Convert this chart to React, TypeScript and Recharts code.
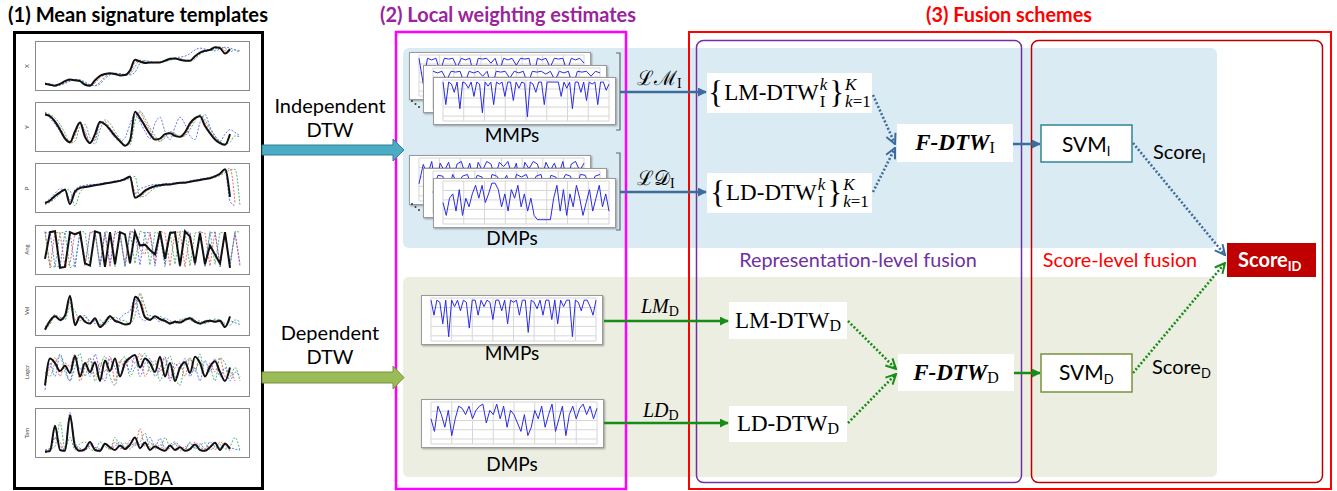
import React from 'react';
import { LineChart, Line, XAxis, YAxis, CartesianGrid } from 'recharts';

// ---------------- DATA ----------------
const SIG_LABELS = ['X', 'Y', 'P', 'Ang', 'Vel', 'Logcr', 'Tam'];
const SIG_TICKS = [0, 5.2, 10.4, 15.6, 20.8, 26, 31.2, 36.4];

const X_mean = [10,8,6,10,16,20,18,16,8,6,18,28,32,34,32,29,30,40,64,60,57,58,58,58,62,66,67,64,62,62,72,80,84,86,92,90,78,88,null,null];
const X_red = [12,9,7,9,14,19,19,17,10,6,12,24,30,33,33,30,29,34,58,62,58,57,58,59,61,65,67,66,63,63,70,78,83,86,90,93,84,86,null,null];
const X_green = [9,7,5,7,12,18,20,18,12,7,6,14,26,32,34,32,30,32,48,63,60,58,57,58,60,63,66,66,63,61,66,76,82,85,88,92,90,82,86,84];
const X_blue = [11,10,8,8,11,16,20,19,14,8,6,10,22,30,33,33,31,30,36,56,62,60,58,58,61,64,68,70,72,78,86,90,88,86,84,88,92,90,86,80];

const Y_mean = [78,74,62,44,24,16,40,60,28,14,34,62,56,44,30,18,8,20,84,70,52,34,22,24,34,36,30,28,38,58,70,74,52,36,22,14,10,34,null,null];
const Y_red = [80,76,64,50,28,14,30,58,42,16,24,58,62,48,34,20,8,14,76,82,62,42,24,18,30,38,34,28,32,52,68,76,60,40,26,16,10,30,null,null];
const Y_green = [82,78,70,56,36,14,18,50,56,26,12,44,66,58,40,24,10,10,62,86,70,48,30,18,26,40,36,28,30,44,64,78,66,46,30,18,12,16,30,28];
const Y_blue = [84,70,56,40,22,16,42,62,36,16,20,58,56,40,26,18,26,56,80,62,40,24,58,72,40,22,50,72,56,30,22,60,78,50,30,18,34,44,38,30];

const P_mean = [16,22,32,40,46,14,42,50,52,54,56,58,60,62,64,66,70,76,28,34,44,50,54,56,58,58,60,62,62,64,66,68,70,72,76,82,92,30,null,null];
const P_red = [12,20,30,42,46,20,36,50,54,54,57,58,60,63,64,67,71,74,40,30,40,48,54,56,57,59,60,61,63,64,66,68,70,72,76,80,88,94,18,null];
const P_green = [14,18,26,36,48,44,10,40,52,56,58,58,60,62,64,66,68,72,76,30,32,42,50,54,56,58,60,60,62,64,66,68,70,72,74,78,84,90,92,10];
const P_blue = [18,26,38,48,44,24,46,54,56,58,58,60,62,62,66,68,72,70,36,48,52,56,58,58,60,60,62,62,64,66,68,70,72,74,78,84,90,20,10,null];

const Ang_mean = [30,90,92,10,12,90,85,90,20,15,92,88,12,90,18,90,85,20,90,60,62,50,40,92,30,88,90,15,92,80,20,88,18,60,40,20,90,10,null,null];
const Ang_red = [90,10,90,88,12,20,90,88,14,90,92,16,88,12,90,80,18,92,88,50,40,90,20,92,88,14,90,90,12,88,16,90,88,14,92,18,90,14,90,20];
const Ang_green = [92,14,12,90,88,10,18,92,90,12,90,14,92,88,12,90,14,90,20,92,88,16,90,86,12,90,18,92,90,14,88,90,12,92,18,90,88,12,92,90];
const Ang_blue = [88,90,14,12,92,90,10,90,16,88,90,12,90,18,92,88,12,90,92,16,90,88,14,90,18,92,88,12,90,90,16,92,14,88,90,12,90,20,88,14];

const Vel_mean = [8,28,38,30,40,84,18,38,26,22,34,14,24,38,28,24,20,22,82,70,36,30,38,32,28,22,26,24,30,34,26,22,26,28,26,28,14,38,null,null];
const Vel_red = [10,24,36,34,38,70,30,40,30,20,30,18,26,34,30,26,20,24,64,86,40,32,36,30,26,20,28,26,32,30,24,22,28,26,30,24,16,30,null,null];
const Vel_green = [12,20,40,36,30,60,50,28,36,28,22,30,20,30,36,30,28,22,40,90,60,30,34,38,30,24,22,28,34,30,26,28,22,26,32,30,22,18,30,26];
const Vel_blue = [14,30,42,28,36,76,24,34,40,24,28,20,30,40,26,34,44,50,78,36,28,40,34,26,34,28,24,30,28,36,30,20,28,30,24,30,18,28,24,20];

const Log_mean = [20,80,70,52,64,48,86,40,70,50,72,30,76,52,80,40,70,82,88,60,80,70,50,84,40,70,30,60,72,48,84,70,40,62,74,50,30,60,null,null];
const Log_red = [30,60,82,40,70,62,90,30,60,82,40,70,50,86,30,76,60,80,70,92,40,62,76,50,82,36,60,70,40,82,56,74,40,70,50,82,40,50,30,null];
const Log_green = [50,40,70,86,50,30,60,92,40,80,30,60,86,40,20,70,84,40,60,76,92,50,70,30,60,86,40,20,70,80,50,90,40,60,30,82,70,40,60,30];
const Log_blue = [10,70,40,90,60,30,80,56,70,40,90,50,30,80,60,40,76,50,86,40,70,80,40,60,84,30,70,56,80,40,60,30,76,50,80,40,60,30,50,40];

const Tam_mean = [8,10,66,12,10,90,20,10,14,30,12,10,26,18,12,22,14,24,40,16,28,12,20,14,10,22,12,18,10,14,24,12,10,18,28,12,26,14,null,null];
const Tam_red = [6,8,40,30,10,84,30,12,10,24,16,8,28,12,30,16,14,34,20,60,20,30,14,24,12,16,26,10,20,12,30,18,14,22,12,30,22,10,null,null];
const Tam_green = [10,14,20,74,16,40,12,26,30,14,10,30,20,14,40,20,28,14,26,30,50,18,24,14,40,20,26,18,12,30,14,22,28,12,20,24,14,20,40,10];
const Tam_blue = [12,16,40,20,14,96,24,16,12,20,18,14,24,16,20,30,18,20,28,24,30,40,20,38,16,24,30,20,14,28,18,26,14,30,20,16,28,18,14,12];

// Local weighting profiles (MMPs / DMPs)
const MMP_I_A = [92,30,92,88,92,60,92,90,92,70,92,88,92,50,92,90,92,80,92,60,92,88,92,75,92,90,92,40,92,88,92,70,92,90,92,60,92,88,92,80];
const MMP_I_B = [92,88,92,70,92,90,92,60,92,88,92,80,92,50,92,90,92,75,92,88,92,60,92,90,92,85,92,70,92,88,92,55,92,90,92,80,92,88];
const MMP_I_C = [95,40,95,90,70,95,30,95,92,80,95,60,95,90,20,95,85,95,40,95,90,95,60,95,95,50,95,80,95,92,10,95,90,70,95,95,40,95,95,95,95,95,60,95,80,95,30,95,95,70,95,50,95,90,95,40,95,95,75,90];
const DMP_I_A = [40,85,60,92,30,88,70,90,50,86,92,60,88,40,90,70,92,86,55,90,80,92,60,88,30,90,75,92,86,50,90,70,88,60,92,40,86,92,70,88];
const DMP_I_B = [50,90,88,40,92,70,88,92,60,90,86,30,92,88,70,90,50,92,86,92,60,88,92,40,90,86,70,92,88,50,92,90,60,88,92];
const DMP_I_C = [50,20,60,70,30,80,20,60,40,70,90,60,90,50,70,95,95,80,40,70,30,80,60,90,40,70,30,60,20,10,10,10,10,10,60,90,30,80,20,70,40,90,60,20,50,80,30,60,90,40,70,30];
const MMP_D = [95,60,95,90,40,95,10,95,80,95,70,95,90,30,95,95,60,95,80,95,90,50,95,95,70,95,40,95,90,95,60,95,95,20,95,90,75,95,60,95,95,50,95,40,95,80,95,95,10,95,90,70,95,95,80,60,95];
const DMP_D = [60,30,90,70,40,80,20,60,90,85,70,90,60,80,90,95,50,80,70,95,60,90,40,80,70,50,30,70,20,40,80,60,90,40,70,95,30,60,90,20,70,90,60,85,95,70,90,60,85];

// ---------------- COMPONENTS ----------------
const SIGS = [
  [X_mean, X_red, X_green, X_blue],
  [Y_mean, Y_red, Y_green, Y_blue],
  [P_mean, P_red, P_green, P_blue],
  [Ang_mean, Ang_red, Ang_green, Ang_blue],
  [Vel_mean, Vel_red, Vel_green, Vel_blue],
  [Log_mean, Log_red, Log_green, Log_blue],
  [Tam_mean, Tam_red, Tam_green, Tam_blue],
];

const SANS = 'Lato, "Open Sans", sans-serif';
const SERIF = '"Liberation Serif", "DejaVu Serif", serif';

function SigPlot({ idx }: { idx: number }) {
  const [m, r, g, b] = SIGS[idx];
  const data = m.map((_, i) => ({ i, m: m[i], r: r[i], g: g[i], b: b[i] }));
  const top = 41 + idx * 61.2;
  const kind = idx === 3 ? 'linear' : 'monotone';
  return (
    <>
      <div style={{ position: 'absolute', left: 35, top, width: 215, height: 50, border: '1px solid #8a8a8a', boxSizing: 'border-box' }} />
      <div style={{ position: 'absolute', left: 20, top: top - 2 }}>
        <LineChart width={240} height={62} data={data} margin={{ top: 2, right: 10, bottom: 10, left: 15 }}>
          <XAxis dataKey="i" type="number" domain={[-2, 41]} ticks={SIG_TICKS} tickFormatter={() => ''} axisLine={false} tickLine={{ stroke: '#666' }} tickSize={3} height={0} />
          <YAxis type="number" domain={[-6, 106]} ticks={[8, 50, 92]} tickFormatter={() => ''} axisLine={false} tickLine={{ stroke: '#666' }} tickSize={3} width={0} />
          <Line type={kind} dataKey="r" stroke="#ee5555" strokeWidth={0.9} strokeDasharray="2 1.5" dot={false} isAnimationActive={false} />
          <Line type={kind} dataKey="g" stroke="#44aa66" strokeWidth={0.9} strokeDasharray="2 1.5" dot={false} isAnimationActive={false} />
          <Line type={kind} dataKey="b" stroke="#5566ee" strokeWidth={0.9} strokeDasharray="2 1.5" dot={false} isAnimationActive={false} />
          <Line type={kind} dataKey="m" stroke="#111" strokeWidth={2} dot={false} isAnimationActive={false} />
        </LineChart>
      </div>
    </>
  );
}

function Card({ vals, left, top, w, h }: { vals: number[]; left: number; top: number; w: number; h: number }) {
  const data = vals.map((v, i) => ({ i, v }));
  const cw = w - 2, ch = h - 2;
  const ml = 9, mr = 6, mt = 2, mb = 3;
  const pw = cw - ml - mr, ph = ch - mt - mb;
  const vp = Array.from({ length: 9 }, (_, k) => ml + (k * pw) / 8);
  const hp = [0, 0.22, 0.44, 0.66, 0.88, 1].map((f) => mt + f * ph);
  return (
    <div style={{ position: 'absolute', left, top, width: w, height: h, background: '#fff', border: '1px solid #9a9a9a', boxSizing: 'border-box', boxShadow: '1px 1px 2px rgba(0,0,0,0.35)' }}>
      <LineChart width={cw} height={ch} data={data} margin={{ top: mt, right: mr, bottom: mb, left: ml }}>
        <CartesianGrid verticalPoints={vp} horizontalPoints={hp} stroke="#d6d6d6" />
        <XAxis dataKey="i" type="number" domain={[0, vals.length - 1]} hide />
        <YAxis type="number" domain={[0, 100]} hide />
        <Line dataKey="v" stroke="#2a2ae6" strokeWidth={1} dot={false} isAnimationActive={false} />
      </LineChart>
    </div>
  );
}

function Stack({ sup, sub }: { sup: React.ReactNode; sub: React.ReactNode }) {
  return (
    <span style={{ display: 'inline-flex', flexDirection: 'column', fontSize: 17, lineHeight: '17px', marginLeft: 1 }}>
      <span>{sup}</span>
      <span>{sub}</span>
    </span>
  );
}

function MathBox({ left, top, w, h, children }: { left: number; top: number; w: number; h: number; children: React.ReactNode }) {
  return (
    <div style={{ position: 'absolute', left, top, width: w, height: h, background: '#fff', display: 'flex', alignItems: 'center', justifyContent: 'center', fontFamily: SERIF, fontSize: 23, color: '#000', whiteSpace: 'nowrap' }}>
      {children}
    </div>
  );
}

function SetExpr({ name }: { name: string }) {
  return (
    <>
      <span style={{ fontSize: 31, lineHeight: '30px', marginRight: 1 }}>{'{'}</span>
      <span>{name}</span>
      <Stack sup={<i>k</i>} sub={<span>I</span>} />
      <span style={{ fontSize: 31, lineHeight: '30px', marginLeft: 2 }}>{'}'}</span>
      <Stack sup={<i>K</i>} sub={<span><i>k</i>=1</span>} />
    </>
  );
}

export default function App() {
  const blue = '#3b6c9c';
  const green = '#178c17';
  return (
    <div style={{ position: 'absolute', left: 0, top: 0, width: 1337, height: 491, background: '#fff', overflow: 'hidden', fontFamily: SANS }}>
      <svg width={1337} height={491} style={{ position: 'absolute', left: 0, top: 0 }}>
        <rect x={403} y={48} width={814} height={200} rx={6} fill="#dbebf3" />
        <rect x={403} y={277} width={814} height={200} rx={6} fill="#ebeee0" />
        <rect x={14.5} y={32.5} width={248} height={456} fill="none" stroke="#000" strokeWidth={3} />
        <rect x={396} y={32} width={230} height={457} fill="none" stroke="#ff00ff" strokeWidth={2.5} />
        <rect x={689} y={32} width={642} height={457} fill="none" stroke="#ff0000" strokeWidth={2} />
        <rect x={696.5} y={40.5} width={325} height={442} rx={7} fill="none" stroke="#7030a0" strokeWidth={1.5} />
        <rect x={1031.5} y={40.5} width={291} height={442} rx={7} fill="none" stroke="#c00000" strokeWidth={1.5} />
      </svg>

      {SIG_LABELS.map((_, i) => <SigPlot key={i} idx={i} />)}

      <Card vals={MMP_I_A} left={409} top={52} w={182} h={48} />
      <Card vals={MMP_I_B} left={423} top={65} w={184} h={48} />
      <Card vals={MMP_I_C} left={433} top={77} w={183} h={48} />
      <Card vals={DMP_I_A} left={409} top={155} w={182} h={50} />
      <Card vals={DMP_I_B} left={423} top={168} w={184} h={50} />
      <Card vals={DMP_I_C} left={433} top={178} w={183} h={50} />
      <Card vals={MMP_D} left={421} top={295} w={182} h={50} />
      <Card vals={DMP_D} left={421} top={399} w={183} h={49} />

      <svg width={1337} height={491} style={{ position: 'absolute', left: 0, top: 0 }}>
        <defs>
          <marker id="hb" viewBox="0 0 10 10" refX="9" refY="5" markerWidth="9" markerHeight="9" markerUnits="userSpaceOnUse" orient="auto">
            <path d="M0,0 L10,5 L0,10 z" fill={blue} />
          </marker>
          <marker id="hg" viewBox="0 0 10 10" refX="9" refY="5" markerWidth="9" markerHeight="9" markerUnits="userSpaceOnUse" orient="auto">
            <path d="M0,0 L10,5 L0,10 z" fill={green} />
          </marker>
          <marker id="ob" viewBox="0 0 12 12" refX="11" refY="6" markerWidth="12" markerHeight="12" markerUnits="userSpaceOnUse" orient="auto">
            <path d="M1,1 L11,6 L1,11" fill="none" stroke={blue} strokeWidth={2} />
          </marker>
          <marker id="og" viewBox="0 0 12 12" refX="11" refY="6" markerWidth="12" markerHeight="12" markerUnits="userSpaceOnUse" orient="auto">
            <path d="M1,1 L11,6 L1,11" fill="none" stroke={green} strokeWidth={2} />
          </marker>
        </defs>

        {SIG_LABELS.map((l, i) => (
          <text key={l} x={0} y={0} fontSize={6} fill="#444" textAnchor="middle" transform={`translate(29, ${66 + i * 61.2}) rotate(-90)`}>{l}</text>
        ))}

        <text x={8} y={22} fontSize={20} fontWeight={700} fill="#000" textLength={260} lengthAdjust="spacingAndGlyphs">(1) Mean signature templates</text>
        <text x={380} y={22} fontSize={20} fontWeight={700} fill="#9b239b" textLength={256} lengthAdjust="spacingAndGlyphs">(2) Local weighting estimates</text>
        <text x={926} y={22} fontSize={20} fontWeight={700} fill="#ff0000" textLength={166} lengthAdjust="spacingAndGlyphs">(3) Fusion schemes</text>

        <polygon points="262,145 393,145 393,139 404,150 393,161 393,155 262,155" fill="#4bacc6" stroke="#357d91" strokeWidth={1} />
        <polygon points="262,372 393,372 393,366 404,377.5 393,389 393,383 262,383" fill="#9bbb59" stroke="#77933c" strokeWidth={1} />

        <text x={330} y={113} fontSize={20} textAnchor="middle" fill="#000">Independent</text>
        <text x={330} y={137} fontSize={20} textAnchor="middle" fill="#000">DTW</text>
        <text x={330} y={340} fontSize={20} textAnchor="middle" fill="#000">Dependent</text>
        <text x={330} y={364} fontSize={20} textAnchor="middle" fill="#000">DTW</text>

        <text x={138} y={485} fontSize={19} textAnchor="middle" fill="#000">EB-DBA</text>
        <text x={512} y={142} fontSize={19} textAnchor="middle" fill="#000">MMPs</text>
        <text x={512} y={245} fontSize={19} textAnchor="middle" fill="#000">DMPs</text>
        <text x={512} y={360} fontSize={19} textAnchor="middle" fill="#000">MMPs</text>
        <text x={512} y={471} fontSize={19} textAnchor="middle" fill="#000">DMPs</text>

        {[0, 103].map((dy) => (
          <g key={dy} fill="#333">
            <circle cx={412} cy={101 + dy} r={1} />
            <circle cx={415.5} cy={104 + dy} r={1} />
            <circle cx={419} cy={107 + dy} r={1} />
          </g>
        ))}
        <path d="M616,53 L620,53 L620,130 L616,130" fill="none" stroke="#666" strokeWidth={1.2} />
        <path d="M616,153 L620,153 L620,230 L616,230" fill="none" stroke="#666" strokeWidth={1.2} />

        <line x1={620} y1={92} x2={706} y2={92} stroke={blue} strokeWidth={2.5} markerEnd="url(#hb)" />
        <line x1={620} y1={192} x2={706} y2={192} stroke={blue} strokeWidth={2.5} markerEnd="url(#hb)" />
        <line x1={604} y1={321} x2={728} y2={321} stroke={green} strokeWidth={2.5} markerEnd="url(#hg)" />
        <line x1={604} y1={423} x2={728} y2={423} stroke={green} strokeWidth={2.5} markerEnd="url(#hg)" />
        <line x1={1013} y1={144} x2={1040} y2={144} stroke={blue} strokeWidth={2.5} markerEnd="url(#hb)" />
        <line x1={1014} y1={373} x2={1040} y2={373} stroke={green} strokeWidth={2.5} markerEnd="url(#hg)" />

        <g strokeWidth={2.6} strokeDasharray="2 2" fill="none">
          <line x1={873} y1={95} x2={895} y2={144} stroke={blue} markerEnd="url(#ob)" />
          <line x1={873} y1={192} x2={895} y2={148} stroke={blue} markerEnd="url(#ob)" />
          <line x1={848} y1={321} x2={896} y2={369} stroke={green} markerEnd="url(#og)" />
          <line x1={848} y1={423} x2={896} y2={374} stroke={green} markerEnd="url(#og)" />
          <line x1={1133} y1={143} x2={1225} y2={255} stroke={blue} markerEnd="url(#ob)" />
          <line x1={1133} y1={373} x2={1225} y2={263} stroke={green} markerEnd="url(#og)" />
        </g>

        <text x={637} y={85} fontSize={20} fontFamily='"DejaVu Serif", serif' fill="#000">ℒℳ<tspan fontFamily={SERIF} fontSize={14} dy={3}>I</tspan></text>
        <text x={637} y={185} fontSize={20} fontFamily='"DejaVu Serif", serif' fill="#000">ℒ𝒟<tspan fontFamily={SERIF} fontSize={14} dy={3}>I</tspan></text>
        <text x={641} y={313} fontSize={20} fontFamily={SERIF} fontStyle="italic" fill="#000">LM<tspan fontStyle="normal" fontSize={14} dy={3}>D</tspan></text>
        <text x={643} y={417} fontSize={20} fontFamily={SERIF} fontStyle="italic" fill="#000">LD<tspan fontStyle="normal" fontSize={14} dy={3}>D</tspan></text>

        <text x={858} y={267} fontSize={19.8} fill="#7030a0" textAnchor="middle">Representation-level fusion</text>
        <text x={1120} y={267} fontSize={19.8} fill="#ff0000" textAnchor="middle">Score-level fusion</text>

        <rect x={1041} y={125} width={91} height={37} fill="#fff" stroke="#31849b" strokeWidth={1.5} />
        <text x={1062} y={152} fontSize={21} fill="#000">SVM<tspan fontSize={13} dy={4}>I</tspan></text>
        <rect x={1041} y={354} width={91} height={38} fill="#fff" stroke="#77933c" strokeWidth={1.5} />
        <text x={1059} y={380} fontSize={21} fill="#000">SVM<tspan fontSize={13} dy={4}>D</tspan></text>

        <text x={1153} y={159} fontSize={20} fill="#000">Score<tspan fontSize={13} dy={4}>I</tspan></text>
        <text x={1152} y={374} fontSize={20} fill="#000">Score<tspan fontSize={13} dy={4}>D</tspan></text>

        <rect x={1227} y={243} width={89} height={34} fill="#c00000" />
        <text x={1238} y={267} fontSize={20} fontWeight={700} fill="#fff">Score<tspan fontSize={13} dy={4}>ID</tspan></text>
      </svg>

      <MathBox left={707} top={73} w={165} h={40}><SetExpr name="LM-DTW" /></MathBox>
      <MathBox left={707} top={173} w={165} h={40}><SetExpr name="LD-DTW" /></MathBox>
      <MathBox left={897} top={124} w={116} h={38}>
        <b><i>F-DTW</i></b><span style={{ fontSize: 16, position: 'relative', top: 5 }}>I</span>
      </MathBox>
      <MathBox left={898} top={354} w={116} h={37}>
        <b><i>F-DTW</i></b><span style={{ fontSize: 16, position: 'relative', top: 5 }}>D</span>
      </MathBox>
      <MathBox left={729} top={302} w={118} h={37}>
        <span>LM-DTW</span><span style={{ fontSize: 16, position: 'relative', top: 5 }}>D</span>
      </MathBox>
      <MathBox left={729} top={406} w={118} h={36}>
        <span>LD-DTW</span><span style={{ fontSize: 16, position: 'relative', top: 5 }}>D</span>
      </MathBox>
    </div>
  );
}
